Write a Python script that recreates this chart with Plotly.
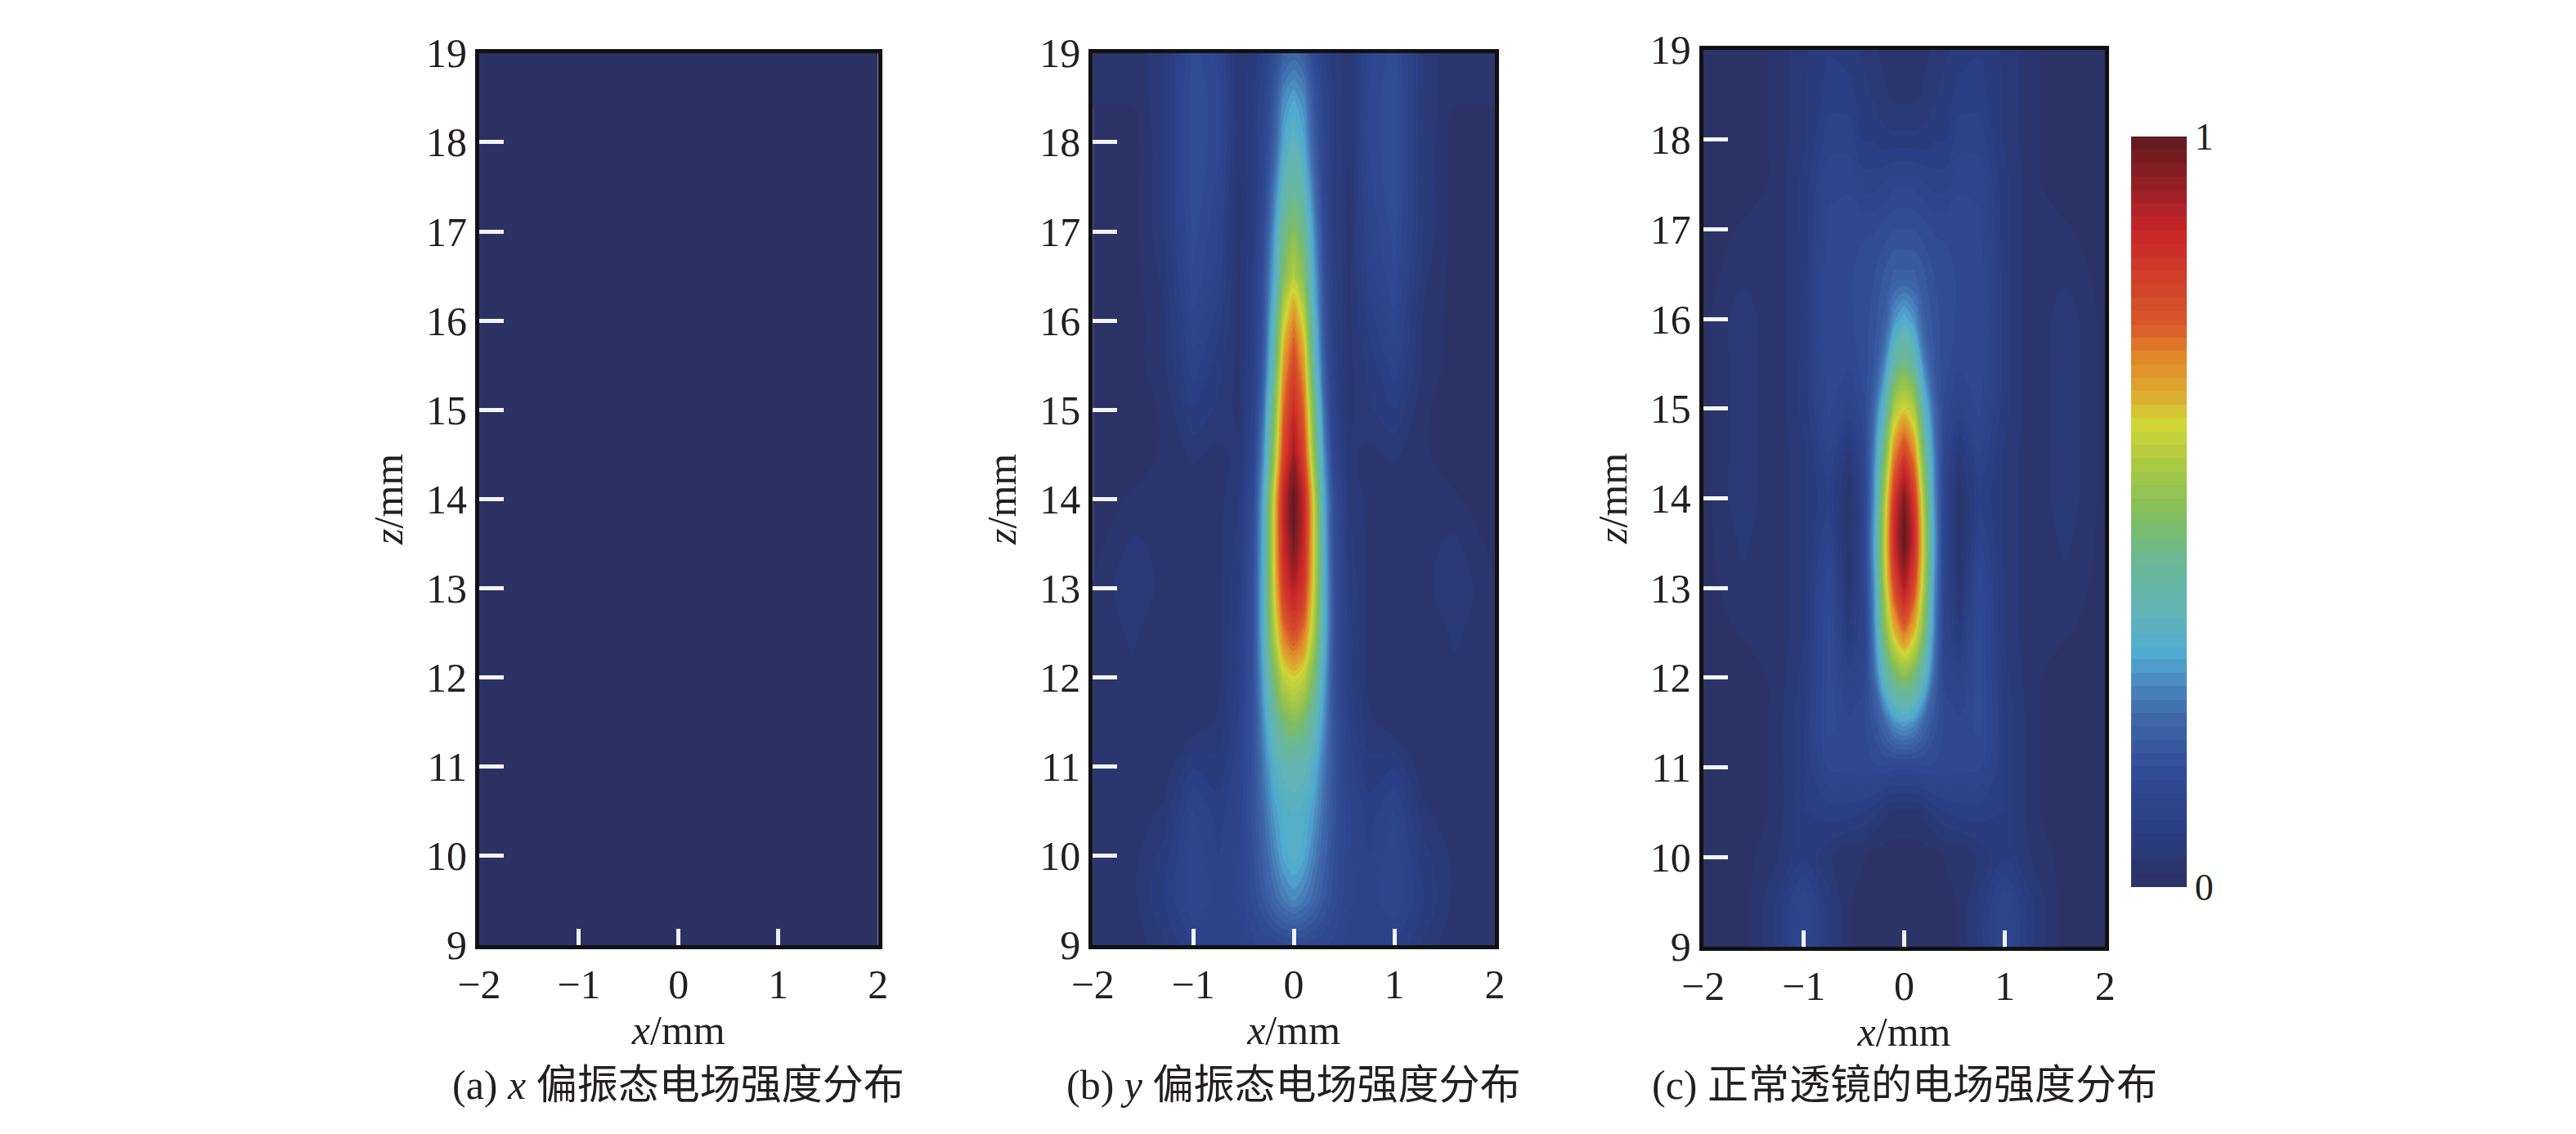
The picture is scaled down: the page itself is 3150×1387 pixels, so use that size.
import numpy as np
import plotly.graph_objects as go
from plotly.subplots import make_subplots

W, H = 3150, 1387
SERIF = "Liberation Serif, Noto Sans CJK SC"
INK = "#231f20"

# half profile positions, the fields are mirrored around x=0
x_half = [0, 0.1, 0.2, 0.3, 0.4, 0.55, 0.75, 1.0, 1.3, 1.6, 2.0]
z_rows = [19, 18.5, 18, 17.5, 17, 16.5, 16, 15.5, 15, 14.5, 14, 13.5, 13,
          12.5, 12, 11.5, 11, 10.5, 10, 9.5, 9]

# (a) is flat
x_a = [-2, 2]
z_a = [9, 19]
field_a = [[0, 0], [0, 0]]

# (b) y polarised
field_b = [
    [.22, .20, .14, .09, .06, .04, .12, .15, .05, .02, .02],
    [.30, .27, .18, .11, .07, .04, .13, .16, .05, .02, .02],
    [.36, .31, .20, .12, .07, .04, .13, .16, .05, .01, .01],
    [.42, .37, .24, .13, .07, .03, .12, .16, .05, .01, .01],
    [.50, .44, .28, .15, .07, .03, .11, .15, .05, .01, .01],
    [.58, .50, .31, .17, .08, .03, .10, .14, .04, .01, .01],
    [.70, .60, .36, .18, .08, .03, .08, .12, .03, .01, .01],
    [.79, .68, .40, .20, .09, .03, .06, .10, .03, .01, .01],
    [.86, .74, .47, .24, .10, .03, .05, .07, .02, .01, .01],
    [.93, .80, .52, .28, .12, .04, .03, .04, .02, .01, .01],
    [1.0, .88, .60, .32, .15, .05, .03, .02, .02, .02, .01],
    [.98, .87, .61, .33, .16, .06, .03, .02, .03, .04, .01],
    [.90, .82, .60, .34, .17, .07, .03, .02, .03, .05, .02],
    [.78, .72, .56, .34, .17, .08, .03, .02, .02, .04, .02],
    [.62, .59, .48, .31, .17, .08, .03, .02, .02, .03, .02],
    [.50, .47, .39, .28, .17, .09, .04, .02, .02, .02, .02],
    [.38, .37, .33, .25, .17, .10, .06, .07, .02, .02, .02],
    [.34, .33, .29, .23, .17, .11, .08, .11, .04, .02, .02],
    [.33, .31, .26, .21, .16, .11, .09, .12, .06, .03, .02],
    [.27, .25, .22, .18, .15, .11, .10, .12, .07, .03, .02],
    [.14, .14, .13, .13, .12, .10, .10, .09, .05, .02, .03],
]

# (c) normal lens
field_c = [
    [.02, .02, .03, .04, .05, .06, .07, .05, .02, .01, .01],
    [.03, .03, .04, .05, .06, .08, .08, .05, .02, .01, .01],
    [.06, .06, .06, .07, .07, .10, .10, .05, .02, .01, .01],
    [.12, .12, .11, .10, .10, .12, .12, .06, .02, .01, .01],
    [.16, .16, .15, .14, .14, .14, .13, .06, .02, .02, .01],
    [.20, .20, .18, .16, .15, .14, .14, .06, .02, .03, .01],
    [.32, .28, .20, .17, .15, .14, .14, .06, .02, .05, .01],
    [.46, .40, .26, .18, .15, .13, .14, .06, .02, .05, .01],
    [.62, .56, .36, .22, .14, .10, .13, .06, .02, .05, .01],
    [.80, .70, .46, .26, .12, .05, .11, .05, .02, .05, .01],
    [.97, .82, .54, .28, .11, .02, .09, .05, .02, .05, .01],
    [1.0, .86, .57, .30, .11, .02, .11, .05, .02, .04, .01],
    [.90, .78, .55, .28, .11, .03, .14, .05, .02, .03, .01],
    [.72, .64, .48, .26, .11, .06, .15, .05, .02, .02, .01],
    [.50, .46, .36, .22, .12, .10, .15, .06, .02, .01, .01],
    [.30, .28, .22, .17, .14, .13, .15, .07, .02, .01, .01],
    [.13, .13, .14, .14, .14, .13, .13, .07, .02, .01, .01],
    [.03, .03, .04, .06, .07, .08, .08, .07, .02, .01, .01],
    [.01, .01, .01, .01, .02, .02, .04, .07, .03, .01, .01],
    [.01, .01, .01, .01, .01, .02, .06, .12, .05, .01, .01],
    [.01, .01, .01, .01, .01, .02, .06, .13, .05, .01, .01],
]

x_ticks = [-2, -1, 0, 1, 2]
z_ticks = list(range(9, 20))
captions = ["(a) <i>x</i> 偏振态电场强度分布",
            "(b) <i>y</i> 偏振态电场强度分布",
            "(c) 正常透镜的电场强度分布"]

colors = [
    [0.00, "#2b3263"], [0.08, "#2a3f85"], [0.15, "#304b94"], [0.23, "#4069ab"],
    [0.284, "#4d93c5"], [0.31, "#4fabd0"], [0.366, "#62b4b5"], [0.433, "#69b896"],
    [0.494, "#80bd5e"], [0.555, "#a5c845"], [0.62, "#d2d636"], [0.65, "#dcb030"],
    [0.71, "#e0852a"], [0.75, "#d9582a"], [0.873, "#c9252a"], [1.00, "#5e1a20"],
]


def mirror(field):
    # full grid from the half profile
    half = np.array(field)
    return np.hstack([half[:, :0:-1], half])


x_full = [-v for v in x_half[:0:-1]] + x_half

# panel boxes in page pixels: left, right, top, bottom
boxes = [(558, 1052, 30, 1168), (1318, 1816, 30, 1168), (2074, 2572, 26, 1170)]

fig = make_subplots(rows=1, cols=3)

fig.add_trace(go.Heatmap(x=x_a, y=z_a, z=field_a, colorscale=colors, zmin=0, zmax=1,
                         showscale=False), row=1, col=1)

for col, field in [(2, field_b), (3, field_c)]:
    fig.add_trace(go.Contour(
        x=x_full, y=z_rows, z=mirror(field),
        colorscale=colors, zmin=0, zmax=1, zauto=False,
        autocontour=False,
        contours=dict(start=0, end=1, size=1 / 56, coloring="fill", showlines=False),
        line=dict(width=0, smoothing=1),
        showscale=col == 3,
        colorbar=dict(
            thickness=68, thicknessmode="pixels",
            len=918, lenmode="pixels",
            x=2604 / W, xanchor="left", xpad=0,
            y=1 - 1094 / H, yanchor="bottom", ypad=0,
            outlinewidth=0, ticks="",
            tickvals=[0, 1], ticktext=["0", "1"],
            tickfont=dict(family=SERIF, size=46, color=INK),
        ),
    ), row=1, col=col)

for i, (left, right, top, bottom) in enumerate(boxes):
    fig.update_xaxes(
        row=1, col=i + 1,
        domain=[left / W, right / W], range=[-2, 2],
        tickmode="array", tickvals=x_ticks, ticks="",
        tickfont=dict(family=SERIF, size=50, color=INK),
        showgrid=False, zeroline=False,
        showline=True, mirror=True, linecolor="#111111", linewidth=5,
        minor=dict(tickmode="array", tickvals=[-1, 0, 1], ticks="inside",
                   ticklen=20, tickwidth=5, tickcolor="#f0f0fa", showgrid=False),
        title=dict(text="<i>x</i>/mm", standoff=8,
                   font=dict(family=SERIF, size=50, color=INK)),
    )
    fig.update_yaxes(
        row=1, col=i + 1,
        domain=[1 - bottom / H, 1 - top / H], range=[9, 19],
        tickmode="array", tickvals=z_ticks, ticks="",
        tickfont=dict(family=SERIF, size=50, color=INK),
        showgrid=False, zeroline=False,
        showline=True, mirror=True, linecolor="#111111", linewidth=5,
        minor=dict(tickmode="array", tickvals=z_ticks[1:-1], ticks="inside",
                   ticklen=30, tickwidth=5, tickcolor="#f4f4fc", showgrid=False),
        title=dict(text="<i>z</i>/mm", standoff=14,
                   font=dict(family=SERIF, size=50, color=INK)),
    )
    fig.add_annotation(
        text=captions[i], xref="paper", yref="paper",
        x=(left + right) / 2 / W, y=1 - 1346 / H,
        xanchor="center", yanchor="middle", showarrow=False,
        font=dict(family=SERIF, size=50, color=INK),
    )

fig.update_layout(
    width=W, height=H,
    margin=dict(l=0, r=0, t=0, b=0),
    paper_bgcolor="white", plot_bgcolor="white",
    showlegend=False,
)

fig.write_html("out.html")
